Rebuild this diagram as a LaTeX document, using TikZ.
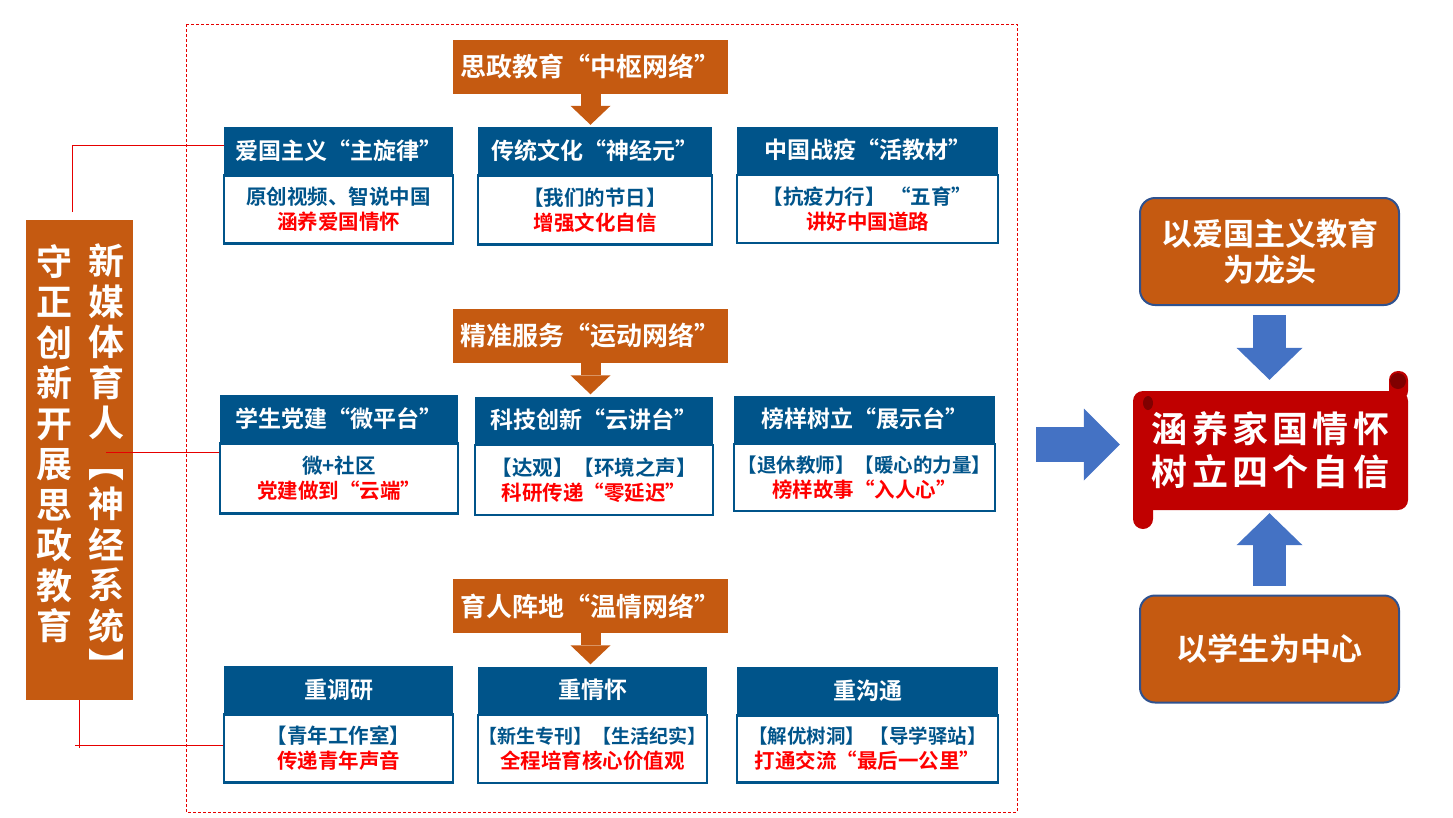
\documentclass[tikz,border=0pt]{standalone}
\usepackage{fontspec}
\setmainfont{Noto Sans CJK SC}[BoldFont={Noto Sans CJK SC Bold}]
\usetikzlibrary{positioning,arrows.meta,calc}
\definecolor{rust}{RGB}{197,90,17}
\definecolor{navy}{RGB}{0,84,138}
\definecolor{txtred}{RGB}{255,0,0}
\definecolor{scrollred}{RGB}{192,0,0}
\definecolor{darkcurl}{RGB}{128,0,0}
\definecolor{arrblue}{RGB}{68,114,196}
\definecolor{edgeblue}{RGB}{47,82,143}
\definecolor{lnred}{RGB}{230,0,0}
\newcommand{\fsz}[2]{\fontsize{#1}{#2}\selectfont}

\begin{document}
\begin{tikzpicture}[x=1pt,y=-1pt,
  hdr/.style={fill=rust,text=white,font=\bfseries\fsz{26}{30},minimum width=275pt,minimum height=54pt,inner sep=0pt},
  ttl/.style={fill=navy,text=white,font=\bfseries\fsz{23}{27},minimum height=47pt,inner sep=0pt},
  bdy/.style={draw=navy,line width=2.5pt,fill=white,text=navy,align=center,font=\bfseries\fsz{20.5}{25},minimum height=68pt,inner sep=0pt},
  hdrarrow/.style={draw=rust,line width=20pt,-{Triangle[length=19pt,width=40pt,line width=0pt]},shorten >=2pt},
  bigarrow/.style={draw=arrblue,line width=33pt,-{Triangle[length=32pt,width=66pt,line width=0pt]}},
  goal/.style={draw=edgeblue,line width=2pt,fill=rust,rounded corners=15pt,text=white,align=center,font=\bfseries\fsz{31}{36},minimum width=259pt,minimum height=107pt},
  core/.style={text=white,align=center,font=\bfseries\fsz{36}{43}\addfontfeature{LetterSpace=12},minimum width=275pt,minimum height=119pt,inner sep=0pt},
  column/.style={text=white,align=center,font=\bfseries\fsz{36}{40.5},inner sep=0pt,anchor=north},
  redln/.style={draw=lnred,line width=1pt}]
\useasboundingbox (0,0) rectangle (1453,817);

% dashed frame round the three networks
\draw[lnred,line width=1pt,dash pattern=on 3pt off 2pt] (186,24) rectangle (1017,812);

% side banner
\node[fill=rust,minimum width=107pt,minimum height=480pt,inner sep=0pt] (side) at (79.5,460) {};
\node[column] (colL) at (54.5,244) {守\\正\\创\\新\\开\\展\\思\\政\\教\\育};
\node[column] (colR) at (106.5,244) {新\\媒\\体\\育\\人\\︻\\神\\经\\系\\统\\︼};

% network 1
\node[hdr] (h1) at (590.5,67) {思政教育“中枢网络”};
\node[ttl,minimum width=229pt] (t1) at (338.5,150.5) {爱国主义“主旋律”};
\node[bdy,minimum width=229pt,below=0pt of t1] (b1) {原创视频、智说中国\\\textcolor{txtred}{涵养爱国情怀}};
\node[ttl,minimum width=234pt] (t2) at (595,150.5) {传统文化“神经元”};
\node[bdy,minimum width=234pt,minimum height=69pt,below=0pt of t2] (b2) {【我们的节日】\\\textcolor{txtred}{增强文化自信}};
\node[ttl,minimum width=261pt] (t3) at (867.5,150) {中国战疫“活教材”};
\node[bdy,minimum width=261pt,below=0pt of t3] (b3) {【抗疫力行】 “五育”\\\textcolor{txtred}{讲好中国道路}};
\draw[hdrarrow] (h1.south) -- (h1.south |- t2.north);

% network 2
\node[hdr] (h2) at (590.5,335.5) {精准服务“运动网络”};
\node[ttl,minimum width=238pt] (t4) at (339,418.5) {学生党建“微平台”};
\node[bdy,minimum width=238pt,minimum height=70pt,below=0pt of t4] (b4) {微+社区\\\textcolor{txtred}{党建做到“云端”}};
\node[ttl,minimum width=238pt] (t5) at (594,420) {科技创新“云讲台”};
\node[bdy,minimum width=238pt,minimum height=70pt,below=0pt of t5] (b5) {【达观】【环境之声】\\\textcolor{txtred}{科研传递“零延迟”}};
\node[ttl,minimum width=261pt] (t6) at (864.5,419) {榜样树立“展示台”};
\node[bdy,minimum width=261pt,minimum height=67pt,below=0pt of t6] (b6) {{\fsz{19.5}{25}【退休教师】【暖心的力量】}\\\textcolor{txtred}{榜样故事“入人心”}};
\draw[hdrarrow] (h2.south) -- (h2.south |- t5.north);

% network 3
\node[hdr] (h3) at (590.5,606) {育人阵地“温情网络”};
\node[ttl,minimum width=229pt] (t7) at (338.5,689.5) {重调研};
\node[bdy,minimum width=229pt,below=0pt of t7] (b7) {【青年工作室】\\\textcolor{txtred}{传递青年声音}};
\node[ttl,minimum width=229pt] (t8) at (592.5,690) {重情怀};
\node[bdy,minimum width=229pt,below=0pt of t8] (b8) {{\fsz{19}{25}【新生专刊】【生活纪实】}\\\textcolor{txtred}{全程培育核心价值观}};
\node[ttl,minimum width=261pt] (t9) at (867.5,690.5) {重沟通};
\node[bdy,minimum width=261pt,minimum height=67pt,below=0pt of t9] (b9) {{\fsz{19.5}{25}【解优树洞】 【导学驿站】}\\\textcolor{txtred}{打通交流“最后一公里”}};
\draw[hdrarrow] (h3.south) -- (h3.south |- t8.north);

% links from the side banner
\coordinate (topcut) at (72,212);
\coordinate (midcut) at (106,452);
\coordinate (botcut) at (75,745);
\draw[redln] (topcut) |- ([yshift=5pt]t1.west);
\draw[redln] (midcut) -- (midcut -| b4.west);
\draw[redln] (side.south) -- ++(0,48);
\draw[redln] (botcut) -- (botcut -| b7.west);

% scroll
\fill[scrollred,rounded corners=10pt] (1133,391) rectangle (1408,510);
\fill[scrollred,rounded corners=9pt] (1389,371) rectangle (1408,400);
\fill[scrollred,rounded corners=10pt] (1133,490) rectangle (1153,529);
\fill[darkcurl] (1398,381) circle (8);
\fill[darkcurl] (1148,403) ellipse (5 and 7);
\node[core] (aim) at (1270.5,450.5) {涵养家国情怀\\树立四个自信};

\node[goal] (lead) at (1269.5,251.5) {以爱国主义教育\\为龙头};
\node[goal] (centre) at (1269.5,649) {以学生为中心};
\draw[bigarrow,shorten <=9pt,shorten >=11pt] (lead.south) -- (lead.south |- aim.north);
\draw[bigarrow,shorten <=9pt,shorten >=3pt] (centre.north) -- (centre.north |- aim.south);
\coordinate (feed) at (1036,444.5);
\draw[bigarrow,line width=35pt,-{Triangle[length=36pt,width=72pt,line width=0pt]},shorten >=13pt] (feed) -- (feed -| aim.west);
\end{tikzpicture}
\end{document}
